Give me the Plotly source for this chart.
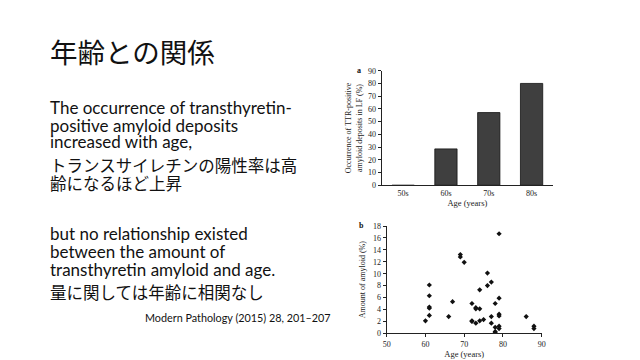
import plotly.graph_objects as go

# Data (figure a)
age_groups = ["50s", "60s", "70s", "80s"]
occurrence_pct = [0, 28.6, 57.1, 80]

# Data (figure b)
ages = [60, 61, 61, 61, 61, 61, 66, 67, 69, 69, 70, 72, 72, 72, 73, 73, 73, 74, 74, 74,
        75, 76, 76, 77, 77, 77, 78, 78, 78, 78, 79, 79, 79, 79, 79, 79, 86, 88, 88]
amyloid_pct = [2.1, 8.1, 6.3, 4.4, 4.2, 3.0, 2.8, 5.3, 13.2, 12.8, 11.9, 5.0, 2.1, 2.0, 4.3, 4.1, 1.7, 7.3, 4.1, 2.1,
               2.3, 10.1, 8.0, 8.6, 2.8, 1.7, 5.0, 1.0, 0.3, 0.1, 16.7, 5.9, 3.2, 2.9, 1.2, 0.8, 2.8, 1.2, 0.8]

serif = "Liberation Serif, Times New Roman, serif"
sans = "Lato, Noto Sans CJK JP, sans-serif"
jp = "Noto Sans CJK JP, sans-serif"

# page body has an 8px margin: figure is 632x352, placed at (8,8)
OFF = 8
W, H = 640 - OFF, 360 - OFF
def px(x): return (x - OFF) / W
def py(y): return 1 - (y - OFF) / H

fig = go.Figure()
fig.add_trace(go.Bar(x=age_groups, y=occurrence_pct, xaxis="x", yaxis="y",
                     marker=dict(color="#3f3f3f", line=dict(color="#111", width=0.8)),
                     width=0.52, showlegend=False))
fig.add_trace(go.Scatter(x=ages, y=amyloid_pct, xaxis="x2", yaxis="y2", mode="markers",
                         marker=dict(symbol="diamond", size=4, color="#111"), showlegend=False))

ax_common = dict(showgrid=False, zeroline=False, linecolor="#222", linewidth=1, automargin=False,
                 tickfont=dict(family=serif, size=8, color="#222"), ticks="outside",
                 ticklen=3, tickcolor="#222")
fig.update_layout(
    width=W, height=H, margin=dict(l=0, r=0, t=0, b=0, pad=0, autoexpand=False),
    paper_bgcolor="white", plot_bgcolor="white",
    xaxis=dict(domain=[px(381.7), px(553)], anchor="y", showline=True, showgrid=False, automargin=False,
               linecolor="#222", linewidth=1, ticks="",
               tickfont=dict(family=serif, size=8, color="#222"),
               title=dict(text="Age (years)", font=dict(family=serif, size=8.5, color="#222"), standoff=2)),
    yaxis=dict(domain=[py(185.3), py(70.7)], anchor="x", range=[0, 90], dtick=10,
               title=dict(text="Occurrence of TTR-positive<br>amyloid deposits in LF (%)",
                          font=dict(family=serif, size=8, color="#222"), standoff=4),
               **ax_common),
    xaxis2=dict(domain=[px(386.7), px(541.7)], anchor="y2", range=[50, 90], dtick=10,
                title=dict(text="Age (years)", font=dict(family=serif, size=8.5, color="#222"), standoff=2),
                **ax_common),
    yaxis2=dict(domain=[py(333.3), py(226)], anchor="x2", range=[0, 18], dtick=2,
                title=dict(text="Amount of amyloid (%)", font=dict(family=serif, size=8, color="#222"), standoff=6),
                **ax_common),
)

def txt(s, x, y, size, family=sans, color="#111", anchor="left"):
    fig.add_annotation(text=s, x=px(x), y=py(y), xref="paper", yref="paper",
                       xanchor=anchor, yanchor="middle", showarrow=False,
                       font=dict(family=family, size=size, color=color))

txt("年齢との関係", 48, 51, 27.5, family=jp)
txt("The occurrence of transthyretin-", 48, 107, 17)
txt("positive amyloid deposits", 48, 125, 17)
txt("increased with age,", 48, 142, 17)
txt("トランスサイレチンの陽性率は高", 48, 165, 16.5, family=jp)
txt("齢になるほど上昇", 48, 183, 16.5, family=jp)
txt("but no relationship existed", 48, 233, 17)
txt("between the amount of", 48, 251, 17)
txt("transthyretin amyloid and age.", 48, 269, 17)
txt("量に関しては年齢に相関なし", 48, 292, 16.5, family=jp)
txt("Modern Pathology (2015) 28, 201–207", 143, 317, 10.8)
txt("<b>a</b>", 355, 70, 8, family=serif)
txt("<b>b</b>", 357, 226, 8, family=serif)

fig.write_html("out.html")
